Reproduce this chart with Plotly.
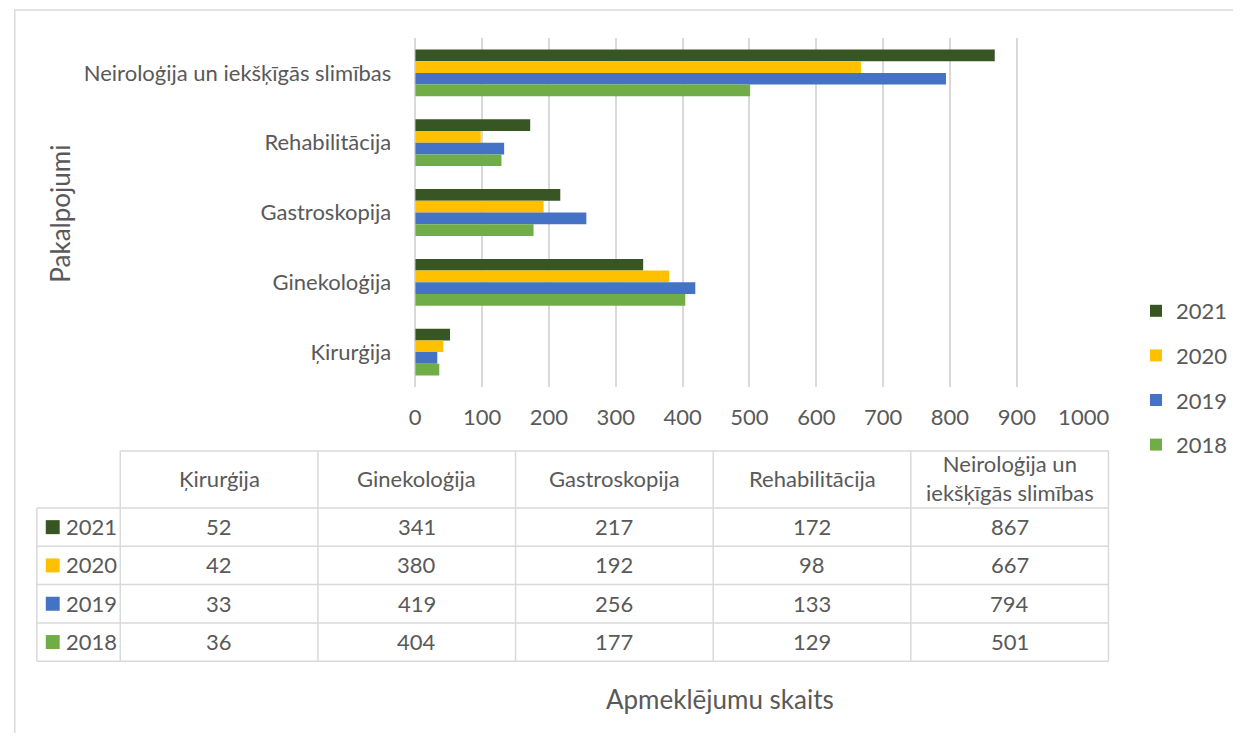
import plotly.graph_objects as go

categories = ["Ķirurģija", "Ginekoloģija", "Gastroskopija", "Rehabilitācija",
              "Neiroloģija un iekšķīgās slimības"]
table_headers = ["Ķirurģija", "Ginekoloģija", "Gastroskopija", "Rehabilitācija",
                 "Neiroloģija un<br>iekšķīgās slimības"]
years = ["2021", "2020", "2019", "2018"]
v2018 = [36, 404, 177, 129, 501]
v2019 = [33, 419, 256, 133, 794]
v2020 = [42, 380, 192, 98, 667]
v2021 = [52, 341, 217, 172, 867]
series = {"2018": v2018, "2019": v2019, "2020": v2020, "2021": v2021}
colors = {"2021": "#375623", "2020": "#FFC000", "2019": "#4472C4", "2018": "#70AD47"}
x_ticks = [0, 100, 200, 300, 400, 500, 600, 700, 800, 900, 1000]

FONT = "Lato"
TXT = "#595959"
GRID = "#d9d9d9"
FW, FH = 1225, 725
# calibration of figure -> screenshot pixels (measured)
OX, SX = 12.0, 0.974
OY = 8.0


def px(x):
    return ((x - OX) / SX) / FW


def py(y):
    return 1 - (y - OY) / FH


fig = go.Figure()
for yr in years:
    fig.add_trace(go.Bar(
        y=categories, x=series[yr], name=yr, orientation="h",
        marker=dict(color=colors[yr], line=dict(width=0)),
        legendgroup=yr,
    ))

# ---- data table (layout geometry in screenshot pixels) ----
col_edges = [35, 119, 318, 517, 716, 915, 1114]
header_top, header_bottom = 451, 508
row_h = 38.3
n_rows = len(years)
row_edges = [header_bottom + i * row_h for i in range(n_rows + 1)]

shapes = []
annotations = []
line_style = dict(color=GRID, width=1.5)

shapes.append(dict(type="line", xref="paper", yref="paper",
                   x0=px(col_edges[1]), x1=px(col_edges[-1]),
                   y0=py(header_top), y1=py(header_top), line=line_style))
for ry in row_edges:
    shapes.append(dict(type="line", xref="paper", yref="paper",
                       x0=px(col_edges[0]), x1=px(col_edges[-1]),
                       y0=py(ry), y1=py(ry), line=line_style))
shapes.append(dict(type="line", xref="paper", yref="paper",
                   x0=px(col_edges[0]), x1=px(col_edges[0]),
                   y0=py(header_bottom), y1=py(row_edges[-1]), line=line_style))
for cx in col_edges[1:]:
    shapes.append(dict(type="line", xref="paper", yref="paper",
                       x0=px(cx), x1=px(cx),
                       y0=py(header_top), y1=py(row_edges[-1]), line=line_style))

tfont = dict(family=FONT, size=22, color=TXT)
for j, h in enumerate(table_headers):
    cx = (col_edges[j + 1] + col_edges[j + 2]) / 2
    annotations.append(dict(text=h, xref="paper", yref="paper",
                            x=px(cx), y=py((header_top + header_bottom) / 2 - 1.5),
                            showarrow=False, xanchor="center", yanchor="middle",
                            font=tfont))
for i, yr in enumerate(years):
    cy = (row_edges[i] + row_edges[i + 1]) / 2
    shapes.append(dict(type="rect", xref="paper", yref="paper",
                       x0=px(44), x1=px(58), y0=py(cy - 7), y1=py(cy + 7),
                       fillcolor=colors[yr], line=dict(width=0)))
    annotations.append(dict(text=yr, xref="paper", yref="paper",
                            x=px(62), y=py(cy - 0.5), showarrow=False,
                            xanchor="left", yanchor="middle", font=tfont))
    for j in range(len(categories)):
        cx = (col_edges[j + 1] + col_edges[j + 2]) / 2
        annotations.append(dict(text=str(series[yr][j]), xref="paper", yref="paper",
                                x=px(cx), y=py(cy - 0.5), showarrow=False,
                                xanchor="center", yanchor="middle", font=tfont))

shapes.append(dict(type="rect", xref="paper", yref="paper",
                   x0=0.75 / FW, x1=1.05, y0=-0.05, y1=py(10),
                   line=dict(color=GRID, width=1.5), fillcolor="rgba(0,0,0,0)",
                   layer="below"))

annotations += [
    dict(text="Pakalpojumi", xref="paper", yref="paper",
         x=px(58), y=py(214), textangle=-90, showarrow=False,
         xanchor="center", yanchor="middle",
         font=dict(family=FONT, size=26, color=TXT)),
    dict(text="Apmeklējumu skaits", xref="paper", yref="paper",
         x=px(723), y=py(699), showarrow=False,
         xanchor="center", yanchor="middle",
         font=dict(family=FONT, size=26, color=TXT)),
]

fig.update_layout(
    width=FW, height=FH,
    margin=dict(l=0, r=0, t=0, b=0),
    paper_bgcolor="white", plot_bgcolor="white",
    barmode="group", bargap=0.33, bargroupgap=0,
    font=dict(family=FONT, size=22, color=TXT),
    xaxis=dict(
        domain=[px(416), px(1089)], range=[0, 1000],
        tickvals=x_ticks, ticktext=[str(t) for t in x_ticks],
        showgrid=True, gridcolor=GRID, gridwidth=1.5,
        zeroline=True, zerolinecolor=GRID, zerolinewidth=1.5,
        showline=False, ticks="", ticklabelstandoff=15,
        tickfont=dict(family=FONT, size=22, color=TXT),
        fixedrange=True,
    ),
    yaxis=dict(
        domain=[py(387), py(38)],
        categoryorder="array", categoryarray=categories[::-1],
        autorange="reversed",
        showgrid=False, zeroline=False, showline=False, ticks="",
        ticklabelstandoff=23,
        tickfont=dict(family=FONT, size=22, color=TXT),
        fixedrange=True,
    ),
    legend=dict(
        x=px(1142), y=py(378), xanchor="left", yanchor="middle",
        traceorder="grouped", tracegroupgap=13,
        font=dict(family=FONT, size=22, color=TXT),
        bgcolor="rgba(0,0,0,0)",
    ),
    showlegend=True,
    shapes=shapes,
    annotations=annotations,
)

fig.write_html("out.html")
